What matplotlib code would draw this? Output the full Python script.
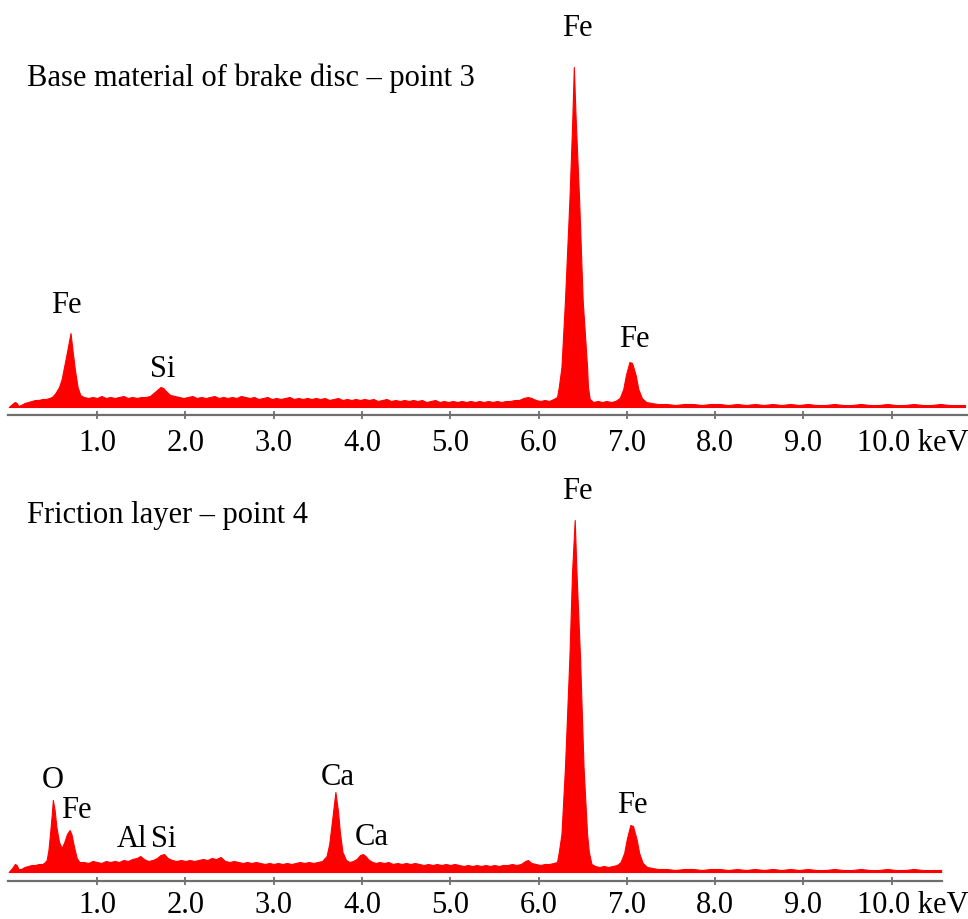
"""EDS spectra: base material of brake disc vs. friction layer."""

import matplotlib
matplotlib.use("Agg")
import matplotlib.pyplot as plt

plt.rcParams["font.family"] = ["Liberation Serif", "DejaVu Serif"]

# (energy keV, counts), base material
top_trace = [
    (0.00, 0), (0.04, 3), (0.07, 5), (0.09, 4), (0.11, 1), (0.14, 2), (0.18, 4), (0.22, 5),
    (0.26, 6), (0.30, 7), (0.34, 7), (0.38, 8), (0.42, 8), (0.46, 9), (0.49, 10), (0.53, 14),
    (0.57, 20), (0.60, 28), (0.62, 37), (0.66, 55), (0.70, 74), (0.725, 55), (0.75, 37),
    (0.78, 20), (0.81, 12), (0.85, 10), (0.90, 9), (0.95, 10), (1.00, 9), (1.05, 11),
    (1.10, 9), (1.15, 10), (1.20, 9), (1.25, 10), (1.30, 11), (1.35, 9), (1.40, 10),
    (1.45, 9), (1.50, 10), (1.55, 10), (1.60, 11), (1.64, 14), (1.68, 17), (1.72, 20),
    (1.75, 19), (1.79, 15), (1.83, 12), (1.88, 11), (1.93, 10), (1.98, 9), (2.03, 10),
    (2.08, 11), (2.13, 9), (2.18, 10), (2.23, 9), (2.28, 10), (2.33, 11), (2.38, 9),
    (2.43, 10), (2.48, 9), (2.53, 10), (2.58, 9), (2.63, 11), (2.68, 10), (2.73, 9),
    (2.78, 10), (2.83, 8), (2.88, 9), (2.93, 10), (2.98, 8), (3.03, 9), (3.08, 8),
    (3.13, 9), (3.18, 10), (3.23, 8), (3.28, 9), (3.33, 8), (3.38, 9), (3.43, 8), (3.48, 9),
    (3.53, 8), (3.58, 9), (3.63, 7), (3.68, 8), (3.73, 9), (3.78, 7), (3.83, 8), (3.88, 7),
    (3.93, 8), (3.98, 7), (4.03, 8), (4.08, 7), (4.13, 8), (4.18, 6), (4.23, 7), (4.28, 8),
    (4.33, 6), (4.38, 7), (4.43, 6), (4.48, 7), (4.53, 6), (4.58, 7), (4.63, 6), (4.68, 7),
    (4.73, 5), (4.78, 6), (4.83, 7), (4.88, 5), (4.93, 6), (4.98, 5), (5.03, 6), (5.08, 5),
    (5.13, 6), (5.18, 5), (5.23, 6), (5.28, 5), (5.33, 6), (5.38, 5), (5.43, 6), (5.48, 5),
    (5.53, 6), (5.58, 5), (5.63, 6), (5.68, 6), (5.73, 7), (5.78, 7), (5.83, 9), (5.88, 10),
    (5.92, 9), (5.97, 7), (6.02, 6), (6.07, 7), (6.12, 6), (6.17, 8), (6.21, 10), (6.23, 20),
    (6.26, 40), (6.30, 107), (6.35, 207), (6.38, 280), (6.40, 340), (6.42, 290), (6.46, 207),
    (6.50, 107), (6.55, 40), (6.56, 20), (6.58, 8), (6.62, 5), (6.67, 6), (6.72, 5),
    (6.77, 6), (6.82, 5), (6.87, 6), (6.92, 9), (6.96, 18), (6.99, 32), (7.03, 45),
    (7.06, 44), (7.10, 32), (7.13, 18), (7.17, 9), (7.22, 5), (7.28, 4), (7.35, 3),
    (7.45, 3), (7.55, 2), (7.65, 3), (7.75, 3), (7.85, 2), (7.95, 3), (8.05, 3), (8.15, 2),
    (8.25, 3), (8.35, 2), (8.45, 3), (8.55, 2), (8.65, 3), (8.75, 2), (8.85, 3), (8.95, 2),
    (9.05, 3), (9.15, 2), (9.25, 2), (9.35, 3), (9.45, 2), (9.55, 2), (9.65, 3), (9.75, 2),
    (9.85, 2), (9.95, 3), (10.05, 2), (10.15, 2), (10.25, 3), (10.35, 2), (10.45, 2),
    (10.55, 3), (10.65, 2), (10.75, 2), (10.83, 2),
]

# (energy keV, counts), friction layer
bottom_trace = [
    (0.00, 0), (0.04, 4), (0.07, 8), (0.09, 7), (0.11, 3), (0.14, 3), (0.18, 5), (0.22, 6),
    (0.26, 7), (0.30, 7), (0.34, 8), (0.38, 8), (0.40, 9), (0.43, 12), (0.45, 22),
    (0.47, 40), (0.49, 60), (0.50, 72), (0.52, 62), (0.54, 45), (0.57, 30), (0.60, 24),
    (0.63, 30), (0.66, 38), (0.69, 42), (0.71, 38), (0.74, 25), (0.77, 14), (0.80, 10),
    (0.85, 10), (0.90, 9), (0.95, 11), (1.00, 10), (1.05, 9), (1.10, 11), (1.15, 10),
    (1.20, 11), (1.25, 10), (1.30, 12), (1.35, 11), (1.40, 13), (1.45, 14), (1.49, 16),
    (1.53, 13), (1.58, 11), (1.63, 12), (1.68, 14), (1.72, 17), (1.76, 18), (1.80, 14),
    (1.85, 12), (1.90, 11), (1.95, 12), (2.00, 11), (2.05, 12), (2.10, 11), (2.15, 12),
    (2.20, 13), (2.25, 12), (2.30, 14), (2.35, 13), (2.40, 15), (2.45, 11), (2.50, 10),
    (2.55, 11), (2.60, 10), (2.65, 9), (2.70, 10), (2.75, 9), (2.80, 10), (2.85, 9),
    (2.90, 8), (2.95, 9), (3.00, 8), (3.05, 9), (3.10, 8), (3.15, 9), (3.20, 8), (3.25, 9),
    (3.30, 10), (3.35, 9), (3.40, 10), (3.45, 9), (3.50, 10), (3.55, 11), (3.60, 16),
    (3.63, 28), (3.66, 50), (3.70, 80), (3.73, 60), (3.75, 40), (3.78, 20), (3.82, 12),
    (3.86, 10), (3.90, 11), (3.94, 13), (3.98, 17), (4.01, 18), (4.04, 16), (4.08, 12),
    (4.12, 10), (4.16, 9), (4.20, 10), (4.25, 9), (4.30, 10), (4.35, 8), (4.40, 9),
    (4.45, 8), (4.50, 9), (4.55, 8), (4.60, 9), (4.65, 8), (4.70, 7), (4.75, 8), (4.80, 7),
    (4.85, 8), (4.90, 7), (4.95, 8), (5.00, 7), (5.05, 8), (5.10, 7), (5.15, 6), (5.20, 7),
    (5.25, 6), (5.30, 7), (5.35, 6), (5.40, 7), (5.45, 6), (5.50, 7), (5.55, 6), (5.60, 7),
    (5.65, 7), (5.70, 8), (5.75, 7), (5.80, 8), (5.85, 11), (5.88, 12), (5.92, 9),
    (5.97, 8), (6.02, 7), (6.07, 8), (6.12, 8), (6.17, 9), (6.21, 10), (6.23, 20),
    (6.26, 38), (6.30, 105), (6.35, 215), (6.38, 300), (6.41, 352), (6.43, 300),
    (6.47, 215), (6.51, 105), (6.55, 38), (6.57, 20), (6.60, 8), (6.64, 6), (6.69, 5),
    (6.74, 6), (6.79, 5), (6.84, 6), (6.89, 7), (6.93, 10), (6.97, 19), (7.00, 33),
    (7.04, 47), (7.07, 46), (7.11, 33), (7.14, 19), (7.18, 9), (7.23, 5), (7.29, 4),
    (7.35, 3), (7.45, 3), (7.55, 2), (7.65, 3), (7.75, 3), (7.85, 2), (7.95, 3), (8.05, 3),
    (8.15, 2), (8.25, 3), (8.35, 2), (8.45, 3), (8.55, 2), (8.65, 3), (8.75, 2), (8.85, 3),
    (8.95, 2), (9.05, 3), (9.15, 2), (9.25, 2), (9.35, 3), (9.45, 2), (9.55, 2), (9.65, 3),
    (9.75, 2), (9.85, 2), (9.95, 3), (10.05, 2), (10.15, 2), (10.25, 3), (10.35, 2),
    (10.45, 2), (10.56, 2),
]

tick_values = [1, 2, 3, 4, 5, 6, 7, 8, 9, 10]
tick_labels = ["1.0", "2.0", "3.0", "4.0", "5.0", "6.0", "7.0", "8.0", "9.0", ""]

top_title = "Base material of brake disc – point 3"
bottom_title = "Friction layer – point 4"

# peak labels: (text, energy, count at text baseline)
top_peaks = [("Fe", 6.44, 371), ("Fe", 0.65, 94), ("Si", 1.74, 30), ("Fe", 7.08, 60)]
bottom_peaks = [("Fe", 6.44, 373), ("O", 0.50, 84), ("Fe", 0.77, 54), ("Al", 1.40, 25),
                ("Si", 1.76, 25), ("Ca", 3.73, 87), ("Ca", 4.11, 27), ("Fe", 7.06, 59)]

RED = "#ff0000"
AXIS = "#6e6e6e"
FS = 22


def draw_panel(ax, trace, title, title_y, peaks, xmax, ymin, ymax, pad):
    energy = [e for e, _ in trace]
    counts = [c for _, c in trace]
    ax.fill_between(energy, counts, 0, color=RED, linewidth=0.8, edgecolor=RED)
    ax.set_xlim(-0.0985, 10.864)
    ax.set_ylim(ymin, ymax)
    for side in ("top", "right", "left"):
        ax.spines[side].set_visible(False)
    ax.spines["bottom"].set_color(AXIS)
    ax.spines["bottom"].set_linewidth(1.6)
    ax.spines["bottom"].set_bounds(-0.01, xmax)
    ax.set_yticks([])
    ax.set_xticks(tick_values)
    ax.set_xticklabels(tick_labels)
    ax.tick_params(axis="x", direction="inout", length=6, width=1.3, color=AXIS,
                   labelsize=FS, pad=pad)
    ax.annotate("10.0 keV", xy=(9.61, 0), xycoords=("data", "axes fraction"),
                xytext=(0, -(3 + pad)), textcoords="offset points",
                ha="left", va="top", fontsize=FS)
    ax.text(0.21, title_y, title, ha="left", va="baseline", fontsize=FS)
    for text, x, y in peaks:
        ax.text(x, y, text, ha="center", va="baseline", fontsize=FS)


def main() -> None:
    fig = plt.figure(figsize=(9.68, 9.19), dpi=100)
    ax_top = fig.add_axes([0, 1 - 415 / 919, 1, 415 / 919])
    ax_bottom = fig.add_axes([0, 1 - 881 / 919, 1, 411 / 919])
    for ax in (ax_top, ax_bottom):
        ax.patch.set_alpha(0)

    draw_panel(ax_top, top_trace, top_title, 321, top_peaks, 10.86, -8, 407, 7)
    draw_panel(ax_bottom, bottom_trace, bottom_title, 349, bottom_peaks, 10.57, -9, 402, 4.5)

    fig.savefig("out.png", dpi=100)
    plt.close(fig)


if __name__ == "__main__":
    main()
